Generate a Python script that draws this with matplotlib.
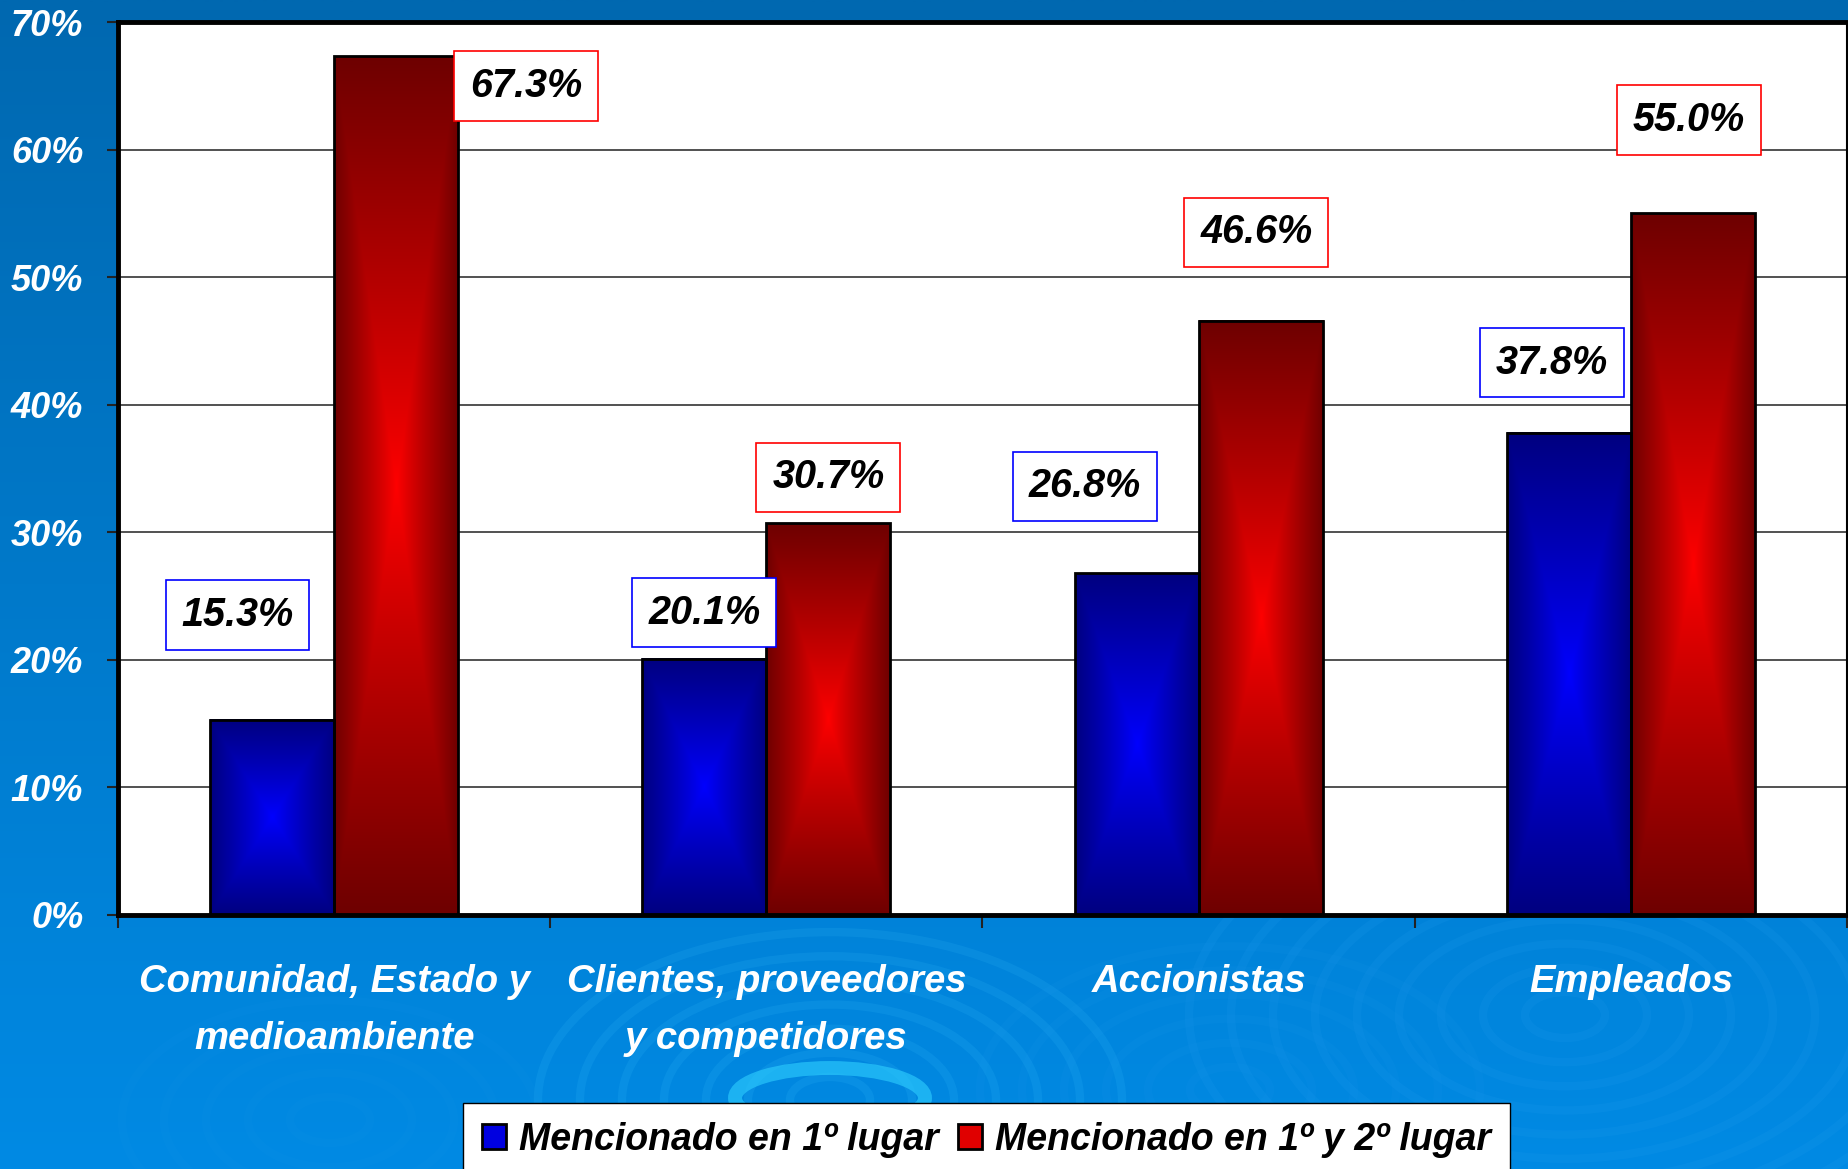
import numpy as np
import matplotlib
matplotlib.use("Agg")
import matplotlib.pyplot as plt
from matplotlib.patches import Patch, Ellipse

# data
categorias = ["Comunidad, Estado y\nmedioambiente", "Clientes, proveedores\ny competidores",
              "Accionistas", "Empleados"]
primer_lugar = [15.3, 20.1, 26.8, 37.8]
primer_segundo = [67.3, 30.7, 46.6, 55.0]
series = ["Mencionado en 1º lugar", "Mencionado en 1º y 2º lugar"]
yticks = [0, 10, 20, 30, 40, 50, 60, 70]

# label box offsets (category units, percentage points) relative to bar top
blue_off = [(-0.08, 8.2), (0.0, 3.6), (-0.12, 6.8), (-0.04, 5.5)]
red_off = [(0.30, -2.3), (0.0, 3.6), (-0.01, 6.9), (-0.01, 7.3)]

fam = ["Liberation Sans", "DejaVu Sans"]

W, H = 1848, 1169
fig = plt.figure(figsize=(W / 100, H / 100), dpi=100)

# background with gradient and ripples
bg = fig.add_axes([0, 0, 1, 1], zorder=-10)
bg.set_xlim(0, W)
bg.set_ylim(H, 0)
bg.axis("off")
top = np.array([0, 104, 176]) / 255
bot = np.array([0, 138, 228]) / 255
v = np.linspace(0, 1, 256)[:, None, None]
img = top * (1 - v) + bot * v
img = np.repeat(img, 2, axis=1)
bg.imshow(img, extent=(0, W, H, 0), aspect="auto", interpolation="bilinear")
for cx, cy, rmax, col, a in [(1565, 1015, 400, "#2aa0f0", 0.14),
                             (830, 1100, 320, "#40c8ff", 0.13),
                             (1230, 1090, 260, "#2aa0f0", 0.08),
                             (330, 1120, 240, "#2aa0f0", 0.06)]:
    for r in np.arange(40, rmax, 42):
        bg.add_patch(Ellipse((cx, cy), 2 * r, 1.15 * r, fill=False,
                             edgecolor=col, lw=6, alpha=a))
bg.add_patch(Ellipse((830, 1098), 190, 60, fill=False, edgecolor="#30d0ff", lw=10, alpha=0.6))

ax = fig.add_axes([118 / W, 1 - 915 / H, (1847 - 118) / W, (915 - 22) / H])
ax.set_facecolor("white")

x = np.arange(len(categorias))
bw = 0.287
b1 = ax.bar(x - bw / 2, primer_lugar, bw, facecolor="none", edgecolor="black", lw=2, zorder=3)
b2 = ax.bar(x + bw / 2, primer_segundo, bw, facecolor="none", edgecolor="black", lw=2, zorder=3)


def gradiente(bright, dark, n=200):
    u = np.linspace(-1, 1, n)
    X, Y = np.meshgrid(u, u)
    t = np.maximum(np.abs(X), np.abs(Y)) ** 0.9
    b = np.array(matplotlib.colors.to_rgb(bright))
    d = np.array(matplotlib.colors.to_rgb(dark))
    return b * (1 - t[..., None]) + d * t[..., None]


g_blue = gradiente("#0000ff", "#000080")
g_red = gradiente("#ff0000", "#6e0000")
for bars, g in [(b1, g_blue), (b2, g_red)]:
    for p in bars:
        x0, y0 = p.get_xy()
        ax.imshow(g, extent=(x0, x0 + p.get_width(), y0, y0 + p.get_height()),
                  aspect="auto", interpolation="bilinear", zorder=2)

# value labels
for bars, vals, offs, col in [(b1, primer_lugar, blue_off, "#0000ff"),
                              (b2, primer_segundo, red_off, "#ff0000")]:
    for p, val, (dx, dy) in zip(bars, vals, offs):
        cx = p.get_x() + p.get_width() / 2
        ax.text(cx + dx, val + dy, "{:.1f}%".format(val), ha="center", va="center",
                family=fam, fontsize=28.5, fontweight="bold", fontstyle="italic",
                color="black", zorder=5,
                bbox=dict(boxstyle="square,pad=0.4", facecolor="white", edgecolor=col, lw=1.2))

ax.set_xlim(-0.5, 3.5)
ax.set_ylim(0, 70)
ax.set_yticks(yticks)
ax.set_yticklabels(["{}%".format(t) for t in yticks], family=fam, fontsize=26,
                   fontweight="bold", fontstyle="italic", color="white")
ax.tick_params(axis="y", direction="out", length=8, width=1.5, color="#222222", pad=17)
ax.set_xticks(x)
ax.set_xticklabels(categorias, family=fam, fontsize=27.5, fontweight="bold",
                   fontstyle="italic", color="white", linespacing=1.75)
ax.tick_params(axis="x", which="major", length=0, pad=35)
ax.set_xticks(np.arange(-0.5, 4, 1), minor=True)
ax.tick_params(axis="x", which="minor", direction="out", length=9, width=1.5, color="#222222")
ax.grid(axis="y", color="#333333", lw=1.2, zorder=0)
ax.set_axisbelow(True)
for s in ["top", "left", "bottom"]:
    ax.spines[s].set_linewidth(3.5)
    ax.spines[s].set_color("black")
ax.spines["right"].set_linewidth(1.5)

handles = [Patch(facecolor="#0000e0", edgecolor="black", lw=2),
           Patch(facecolor="#e00000", edgecolor="black", lw=2)]
leg = fig.legend(handles, series, loc="upper left", bbox_to_anchor=(463 / W, 1 - 1103 / H),
                 ncol=2, frameon=True, fancybox=False, handlelength=0.65, handleheight=0.65,
                 handletextpad=0.35, columnspacing=0.5, borderpad=0.5, borderaxespad=0,
                 prop=dict(family=fam, size=27, weight="bold", style="italic"))
leg.get_frame().set_edgecolor("black")
leg.get_frame().set_linewidth(1)
leg.get_frame().set_facecolor("white")
leg.get_frame().set_alpha(1)

plt.savefig("out.png", dpi=100)
